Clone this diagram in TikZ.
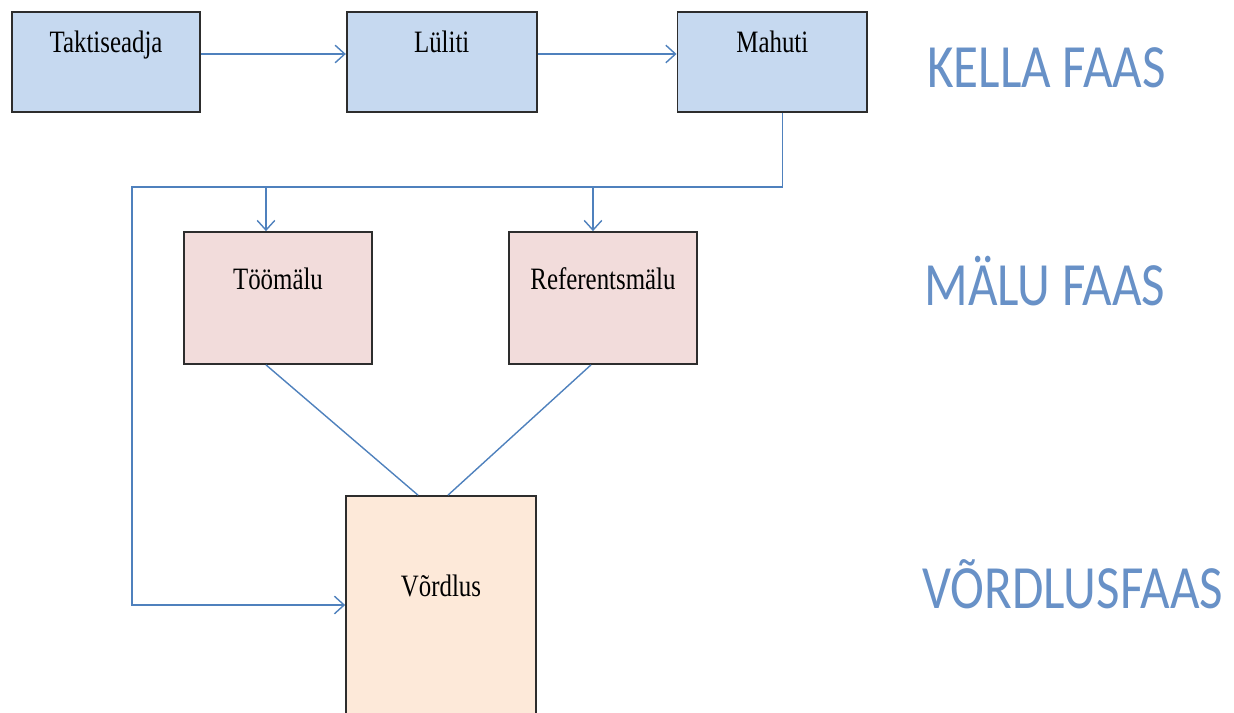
\documentclass[tikz,border=0pt]{standalone}
\usepackage{fontspec}
\usepackage{tikz}
\usetikzlibrary{positioning,arrows.meta}
\setmainfont{Liberation Serif}
\newfontfamily\boxfont[FakeStretch=0.8]{Liberation Serif}
\newfontfamily\phasefont[FakeStretch=0.83]{Carlito}
\definecolor{linkblue}{RGB}{79,129,189}
\definecolor{phaseblue}{RGB}{104,145,199}
\definecolor{clockfill}{RGB}{198,217,240}
\definecolor{memfill}{RGB}{242,220,219}
\definecolor{cmpfill}{RGB}{253,233,217}
\definecolor{boxline}{RGB}{45,45,45}

\begin{document}
\begin{tikzpicture}[x=0.02cm,y=-0.02cm,
  box/.style={draw=boxline,line width=1pt,inner sep=0pt,text height=0.4cm,
    font=\boxfont\fontsize{17.7}{20}\selectfont},
  link/.style={draw=linkblue,line width=0.8pt},
  arr/.style={link,-{Straight Barb[length=5.5pt,width=10pt]}},
  phase/.style={anchor=base west,inner sep=0pt,text=phaseblue,
    font=\phasefont\fontsize{35}{40}\selectfont}]

\useasboundingbox (0,0) rectangle (1234,713);
\clip (0,0) rectangle (1234,713);

% ============================
% KELLA FAAS
% ============================

\node[box,fill=clockfill,minimum width=3.76cm,minimum height=2cm,text depth=0.8cm]
  (takt) at (106,62) {Taktiseadja};
\node[box,fill=clockfill,minimum width=3.8cm,minimum height=2cm,text depth=0.8cm,
  right=2.9cm of takt] (lyliti) {Lüliti};
\node[box,fill=clockfill,minimum width=3.8cm,minimum height=2cm,text depth=0.8cm,
  right=2.78cm of lyliti] (mahuti) {Mahuti};

\draw[arr] ([yshift=0.16cm]takt.east) -- ([yshift=0.16cm]lyliti.west);
\draw[arr] ([yshift=0.16cm]lyliti.east) -- ([yshift=0.16cm]mahuti.west);

% ============================
% MÄLU FAAS
% ============================

\node[box,fill=memfill,minimum width=3.76cm,minimum height=2.64cm,text depth=0.76cm]
  (toomalu) at (278,298) {Töömälu};
\node[box,fill=memfill,minimum width=3.76cm,minimum height=2.64cm,text depth=0.76cm]
  (refmalu) at (603,298) {Referentsmälu};

% ============================
% VÕRDLUSFAAS
% ============================

\node[box,fill=cmpfill,minimum width=3.8cm,minimum height=5.28cm,text depth=1.68cm]
  (vordlus) at (441,628) {Võrdlus};

% bus from Mahuti
\coordinate (busL) at (132,187);
\draw[arr] ([xshift=0.2cm]mahuti.south) |- (busL) |- ([yshift=0.46cm]vordlus.west);

\coordinate (tooIn) at ([xshift=-0.24cm]toomalu.north);
\coordinate (refIn) at ([xshift=-0.2cm]refmalu.north);
\draw[arr] (tooIn |- busL) -- (tooIn);
\draw[arr] (refIn |- busL) -- (refIn);

\draw[link] ([xshift=-0.24cm]toomalu.south) -- ([xshift=-0.46cm]vordlus.north);
\draw[link] ([xshift=-0.24cm]refmalu.south) -- ([xshift=0.14cm]vordlus.north);

% ============================
% LABELS
% ============================

\node[phase] (kella) at (927,88) {KELLA FAAS};
\node[phase] (malu) at (924,305) {MÄLU FAAS};
\node[phase] (vordlusfaas) at (922,608) {VÕRDLUSFAAS};

\end{tikzpicture}
\end{document}
